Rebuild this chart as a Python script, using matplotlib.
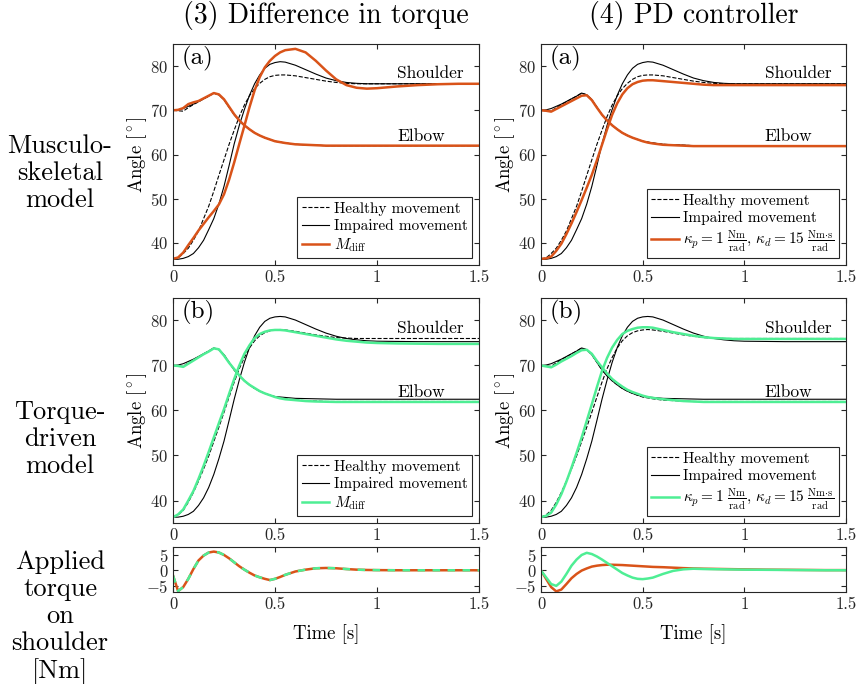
#!/usr/bin/env python3
"""Shoulder/elbow angle trajectories and applied shoulder torque for the two
compensation strategies (difference in torque, PD controller) on the
musculoskeletal and the torque-driven arm model."""
import matplotlib
matplotlib.use("Agg")
import matplotlib.pyplot as plt
from matplotlib.ticker import FuncFormatter

# ---------------------------------------------------------------- data
T = [0, 0.025, 0.05, 0.075, 0.1, 0.125, 0.15, 0.175, 0.2, 0.225, 0.25, 0.275,
     0.3, 0.325, 0.35, 0.375, 0.4, 0.425, 0.45, 0.475, 0.5, 0.525, 0.55, 0.6,
     0.65, 0.7, 0.75, 0.8, 0.85, 0.9, 0.95, 1.0, 1.1, 1.2, 1.3, 1.4, 1.5]

# musculoskeletal model [deg]
ms_healthy_sh = [36.4, 36.6, 37.6, 38.8, 40.6, 42.7, 45.5, 48.3, 51.7, 55.3, 58.8, 62.3,
                 65.5, 68.6, 71.2, 73.3, 74.9, 76.1, 77.0, 77.6, 77.9, 78.0, 78.0, 77.8,
                 77.4, 77.0, 76.6, 76.3, 76.1, 76.0, 76.0, 76.0, 76.0, 76.0, 76.0, 76.0, 76.0]
ms_impaired_sh = [36.3, 36.3, 36.5, 36.9, 37.6, 38.9, 40.6, 43.0, 45.5, 48.8, 52.8, 57.5,
                  62.4, 66.6, 70.2, 73.4, 76.0, 78.0, 79.5, 80.4, 80.8, 81.0, 80.9, 80.2,
                  79.2, 78.2, 77.3, 76.7, 76.3, 76.1, 76.0, 76.0, 76.0, 76.0, 76.0, 76.0, 76.0]
ms_diff_sh = [36.4, 36.7, 37.8, 39.5, 41.1, 42.8, 44.3, 45.8, 47.2, 48.7, 51.0, 54.3,
              58.2, 62.4, 66.5, 70.7, 74.5, 77.5, 79.7, 81.2, 82.3, 83.1, 83.6, 83.9,
              83.1, 81.2, 79.0, 77.0, 75.7, 75.1, 74.9, 75.0, 75.4, 75.7, 75.9, 76.0, 76.0]
ms_pd_sh = [36.4, 36.5, 36.9, 38.2, 39.8, 42.0, 44.4, 47.0, 49.7, 52.5, 55.4, 58.7,
            62.2, 65.7, 69.0, 71.6, 73.6, 75.0, 75.9, 76.4, 76.7, 76.8, 76.8, 76.6,
            76.4, 76.2, 76.0, 75.8, 75.7, 75.7, 75.7, 75.7, 75.7, 75.7, 75.7, 75.7, 75.7]
ms_healthy_el = [70.0, 69.9, 69.8, 70.6, 71.3, 71.9, 72.6, 73.2, 73.9, 73.5, 72.4, 70.7,
                 69.0, 67.7, 66.6, 65.7, 64.9, 64.3, 63.8, 63.4, 63.0, 62.8, 62.6, 62.3,
                 62.2, 62.1, 62.0, 62.0, 62.0, 62.0, 62.0, 62.0, 62.0, 62.0, 62.0, 62.0, 62.0]
ms_impaired_el = [70.0, 70.1, 70.4, 70.9, 71.4, 72.0, 72.6, 73.2, 73.9, 73.5, 72.4, 70.7,
                  69.0, 67.7, 66.6, 65.7, 64.9, 64.3, 63.8, 63.4, 63.0, 62.8, 62.6, 62.3,
                  62.2, 62.1, 62.0, 62.0, 62.0, 62.0, 62.0, 62.0, 62.0, 62.0, 62.0, 62.0, 62.0]
ms_diff_el = [70.0, 70.1, 70.5, 71.4, 71.8, 72.1, 72.7, 73.3, 73.9, 73.6, 72.5, 70.8,
              69.1, 67.7, 66.6, 65.7, 64.9, 64.3, 63.8, 63.4, 63.0, 62.8, 62.6, 62.3,
              62.2, 62.1, 62.0, 62.0, 62.0, 62.0, 62.0, 62.0, 62.0, 62.0, 62.0, 62.0, 62.0]
ms_pd_el = [70.0, 69.9, 69.7, 70.3, 70.9, 71.5, 72.1, 72.7, 73.3, 73.4, 72.3, 70.6,
            69.0, 67.7, 66.6, 65.7, 64.9, 64.3, 63.8, 63.4, 63.0, 62.7, 62.5, 62.2,
            62.1, 62.0, 61.9, 61.9, 61.9, 61.9, 61.9, 61.9, 61.9, 61.9, 61.9, 61.9, 61.9]

# torque-driven model [deg]
td_healthy_sh = [36.3, 36.8, 37.8, 39.6, 41.8, 44.3, 47.0, 49.9, 53.1, 56.3, 59.6, 63.0,
                 66.3, 69.3, 71.8, 73.9, 75.5, 76.6, 77.3, 77.7, 77.9, 78.0, 77.9, 77.6,
                 77.2, 76.8, 76.5, 76.2, 76.1, 76.0, 76.0, 76.0, 76.0, 76.0, 76.0, 76.0, 76.0]
td_impaired_sh = [36.3, 36.3, 36.5, 36.9, 37.6, 38.9, 40.6, 42.9, 45.8, 49.3, 53.2, 57.8,
                  62.5, 66.8, 70.7, 74.0, 76.6, 78.5, 79.8, 80.5, 80.8, 80.9, 80.8, 80.1,
                  79.1, 78.1, 77.2, 76.5, 76.0, 75.7, 75.5, 75.4, 75.35, 75.3, 75.3, 75.3, 75.3]
td_diff_sh = [36.3, 36.9, 38.0, 40.0, 42.1, 44.8, 47.7, 50.8, 54.0, 57.2, 60.3, 63.7,
              67.0, 70.0, 72.6, 74.5, 76.1, 77.0, 77.5, 77.8, 77.9, 77.9, 77.8, 77.4,
              77.0, 76.6, 76.2, 75.8, 75.5, 75.3, 75.1, 75.0, 74.9, 74.85, 74.8, 74.8, 74.8]
td_pd_sh = [36.3, 36.6, 37.3, 39.1, 41.4, 44.2, 47.3, 50.6, 54.0, 57.7, 61.4, 65.2,
            68.8, 71.7, 74.0, 75.7, 77.0, 77.7, 78.1, 78.4, 78.5, 78.5, 78.4, 77.9,
            77.4, 77.0, 76.6, 76.3, 76.1, 76.0, 75.9, 75.9, 75.9, 75.9, 75.9, 75.9, 75.9]
td_healthy_el = ms_healthy_el
td_impaired_el = [70.0, 70.1, 70.4, 70.9, 71.4, 72.0, 72.6, 73.2, 73.9, 73.5, 72.4, 70.7,
                  69.0, 67.7, 66.6, 65.7, 64.9, 64.3, 63.8, 63.4, 63.1, 63.0, 62.9, 62.7,
                  62.65, 62.6, 62.55, 62.5, 62.5, 62.5, 62.5, 62.5, 62.5, 62.5, 62.5, 62.5, 62.5]
td_diff_el = [70.0, 69.9, 69.7, 70.4, 71.1, 71.8, 72.5, 73.1, 73.8, 73.6, 72.2, 70.6,
              69.2, 67.8, 66.6, 65.7, 65.0, 64.3, 63.8, 63.4, 63.0, 62.7, 62.5, 62.3,
              62.1, 62.0, 61.95, 61.9, 61.9, 61.9, 61.9, 61.9, 61.9, 61.9, 61.9, 61.9, 61.9]
td_pd_el = [70.0, 69.8, 69.6, 70.2, 70.9, 71.5, 72.1, 72.8, 73.4, 73.5, 72.6, 71.0,
            69.6, 68.2, 67.0, 66.1, 65.3, 64.6, 64.1, 63.7, 63.3, 63.0, 62.8, 62.5,
            62.3, 62.1, 62.0, 61.9, 61.9, 61.9, 61.9, 61.9, 61.9, 61.9, 61.9, 61.9, 61.9]

# applied shoulder torque [Nm]
tq_diff = [-1.7, -6.8, -5.5, -2.8, 0.4, 3.2, 4.8, 5.8, 6.1, 5.8, 5.0, 3.9,
           2.6, 1.3, 0.2, -0.8, -1.7, -2.3, -2.8, -3.2, -2.8, -2.2, -1.5, -0.4,
           0.2, 0.65, 0.75, 0.65, 0.4, 0.2, 0.1, 0.05, 0.0, 0.0, 0.0, 0.0, 0.0]
tq_pd_ms = [-0.1, -2.8, -5.5, -6.9, -6.3, -4.5, -2.6, -1.2, -0.1, 0.6, 1.2, 1.5,
            1.7, 1.8, 1.8, 1.75, 1.7, 1.6, 1.5, 1.4, 1.3, 1.2, 1.1, 1.0,
            0.85, 0.7, 0.6, 0.5, 0.45, 0.4, 0.35, 0.3, 0.2, 0.15, 0.1, 0.05, 0.05]
tq_pd_td = [-0.1, -2.3, -4.5, -5.1, -3.7, -1.2, 1.5, 3.5, 5.0, 5.7, 5.3, 4.5,
            3.5, 2.4, 1.3, 0.2, -0.9, -1.7, -2.4, -2.8, -2.9, -2.7, -2.4, -1.2,
            -0.2, 0.3, 0.5, 0.4, 0.35, 0.3, 0.25, 0.2, 0.15, 0.1, 0.05, 0.0, 0.0]

COL_TITLES = ["(3) Difference in torque", "(4) PD controller"]
ROW_LABELS = ["Musculo-\nskeletal\nmodel", "Torque-\ndriven\nmodel",
              "Applied\ntorque\non\nshoulder\n[Nm]"]
LBL_DIFF = r"$M_{\rm diff}$"
LBL_PD = (r"$\kappa_p = 1\ \frac{\rm Nm}{\rm rad}$, "
          r"$\kappa_d = 15\ \frac{\rm Nm{\cdot}s}{\rm rad}$")

# ---------------------------------------------------------------- style
C_MS = "#D95319"   # musculoskeletal (orange)
C_TD = "#4EEE94"   # torque-driven (green)
C_AX = "#262626"

plt.rcParams.update({
    "font.family": "serif",
    "font.serif": ["cmr10"],
    "mathtext.fontset": "cm",
    "axes.formatter.use_mathtext": True,
    "font.size": 11,
    "axes.edgecolor": C_AX,
    "axes.linewidth": 0.8,
    "xtick.color": C_AX,
    "ytick.color": C_AX,
    "xtick.direction": "in",
    "ytick.direction": "in",
    "xtick.top": True,
    "ytick.right": True,
    "xtick.major.size": 3.5,
    "ytick.major.size": 3.5,
    "xtick.labelsize": 12,
    "ytick.labelsize": 12,
})

COL_X = [173 / 861, 541 / 861]
COL_W = [306 / 861, 305 / 861]
ROW_Y = [1 - 265 / 684, 1 - 523 / 684, 1 - 592 / 684]
ROW_H = [221 / 684, 225 / 684, 45 / 684]

fmt_g = FuncFormatter(lambda v, _: f"{v:g}")


def _angle_panel(ax, tag, healthy, impaired, comp, color, label):
    (h_sh, h_el), (i_sh, i_el), (c_sh, c_el) = healthy, impaired, comp
    ax.plot(T, h_sh, "--", color="k", lw=0.8, label="Healthy movement")
    ax.plot(T, h_el, "--", color="k", lw=0.8)
    ax.plot(T, i_sh, "-", color="k", lw=0.8, label="Impaired movement")
    ax.plot(T, i_el, "-", color="k", lw=0.8)
    ax.plot(T, c_sh, "-", color=color, lw=1.8, label=label)
    ax.plot(T, c_el, "-", color=color, lw=1.8)
    ax.set_xlim(0, 1.5)
    ax.set_ylim(35, 85)
    ax.set_xticks([0, 0.5, 1, 1.5])
    ax.set_yticks([40, 50, 60, 70, 80])
    ax.xaxis.set_major_formatter(fmt_g)
    ax.set_ylabel(r"Angle [$^\circ$]", fontsize=13.5, labelpad=1)
    ax.text(0.028, 0.99, tag, transform=ax.transAxes, ha="left", va="top",
            fontsize=18)
    ax.text(1.1, 77.2, "Shoulder", ha="left", va="baseline", fontsize=12.5)
    ax.text(1.1, 63.0, "Elbow", ha="left", va="baseline", fontsize=12.5)
    leg = ax.legend(loc="lower right", fontsize=11, handlelength=1.8,
                    handletextpad=0.3, borderpad=0.3, labelspacing=0.2,
                    borderaxespad=0.45, fancybox=False, framealpha=1)
    leg.get_frame().set_edgecolor(C_AX)
    leg.get_frame().set_linewidth(0.8)


def _torque_panel(ax):
    ax.set_xlim(0, 1.5)
    ax.set_ylim(-7.1, 7.6)
    ax.set_xticks([0, 0.5, 1, 1.5])
    ax.set_yticks([-5, 0, 5])
    ax.xaxis.set_major_formatter(fmt_g)
    ax.set_xlabel("Time [s]", fontsize=13.5, labelpad=9)


def main():
    fig = plt.figure(figsize=(8.61, 6.84), dpi=100)
    axs = [[fig.add_axes([COL_X[c], ROW_Y[r], COL_W[c], ROW_H[r]])
            for c in range(2)] for r in range(3)]

    ms_h = (ms_healthy_sh, ms_healthy_el)
    ms_i = (ms_impaired_sh, ms_impaired_el)
    td_h = (td_healthy_sh, td_healthy_el)
    td_i = (td_impaired_sh, td_impaired_el)

    _angle_panel(axs[0][0], "(a)", ms_h, ms_i, (ms_diff_sh, ms_diff_el), C_MS, LBL_DIFF)
    _angle_panel(axs[0][1], "(a)", ms_h, ms_i, (ms_pd_sh, ms_pd_el), C_MS, LBL_PD)
    _angle_panel(axs[1][0], "(b)", td_h, td_i, (td_diff_sh, td_diff_el), C_TD, LBL_DIFF)
    _angle_panel(axs[1][1], "(b)", td_h, td_i, (td_pd_sh, td_pd_el), C_TD, LBL_PD)

    # same torque profile for both models -> orange line, green dashes on top
    a = axs[2][0]
    a.plot(T, tq_diff, "-", color=C_MS, lw=1.8)
    a.plot(T, tq_diff, "--", color=C_TD, lw=1.8, dashes=(3, 3))
    _torque_panel(a)
    a = axs[2][1]
    a.plot(T, tq_pd_ms, "-", color=C_MS, lw=1.8)
    a.plot(T, tq_pd_td, "-", color=C_TD, lw=1.8)
    _torque_panel(a)

    for c, title in enumerate(COL_TITLES):
        fig.text(COL_X[c] + COL_W[c] / 2, 1 - 15 / 684, title, ha="center",
                 va="center", fontsize=20)
    for y, lbl in zip([1 - 173 / 684, 1 - 439 / 684, 1 - 618 / 684], ROW_LABELS):
        fig.text(60 / 861, y, lbl, ha="center", va="center", fontsize=19,
                 linespacing=1.17)

    fig.savefig("out.png", dpi=100)
    plt.close(fig)


if __name__ == "__main__":
    main()
